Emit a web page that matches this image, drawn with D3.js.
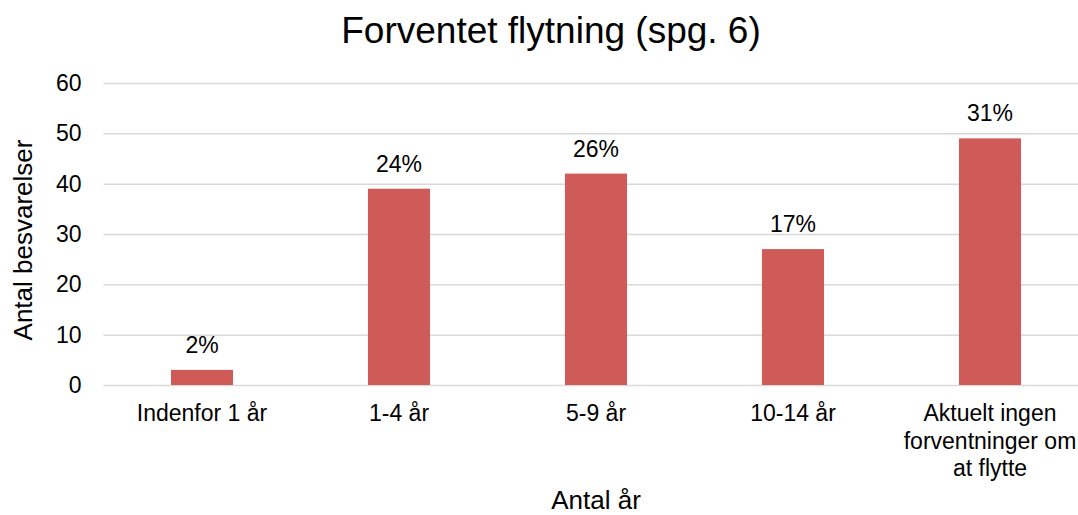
<!DOCTYPE html>
<html>
<head>
<meta charset="utf-8">
<script src="https://cdn.jsdelivr.net/npm/d3@7"></script>
<style>
  html, body { margin: 0; padding: 0; background: #ffffff; }
  svg { display: block; }
  text { font-family: "Liberation Sans", Arial, sans-serif; fill: #000000; }
</style>
</head>
<body>
<svg id="chart" width="1078" height="515"></svg>
<script>
// Survey answers: expected time until moving
const categories = ["Indenfor 1 år", "1-4 år", "5-9 år", "10-14 år", "Aktuelt ingen forventninger om at flytte"];
const counts = [3, 39, 42, 27, 49];
const yTicks = [0, 10, 20, 30, 40, 50, 60];

const titleText = "Forventet flytning (spg. 6)";
const xTitle = "Antal år";
const yTitle = "Antal besvarelser";

const W = 1078, H = 515;
const plot = { left: 103.5, right: 1088.5, top: 83, bottom: 385 };

const svg = d3.select("#chart");

const x = d3.scaleBand()
  .domain(categories)
  .range([plot.left, plot.right])
  .paddingInner(0.685)
  .paddingOuter(0.3425);

const y = d3.scaleLinear()
  .domain([0, 60])
  .range([plot.bottom, plot.top]);

const total = d3.sum(counts);
const pct = d3.format(".0%");

// Horizontal gridlines with value labels
const yAxis = svg.append("g")
  .attr("transform", `translate(${plot.left},0)`)
  .call(d3.axisLeft(y).tickValues(yTicks).tickSize(-(W - plot.left)).tickPadding(22).tickFormat(d3.format("d")));
yAxis.select(".domain").remove();
yAxis.selectAll(".tick line").attr("stroke", "#d9d9d9").attr("stroke-width", 1.5);
yAxis.selectAll(".tick text")
  .attr("font-size", 23)
  .attr("font-family", "'Liberation Sans', Arial, sans-serif")
  .attr("fill", "#000");

// Bars
svg.append("g").selectAll("rect")
  .data(counts)
  .join("rect")
  .attr("x", (d, i) => x(categories[i]))
  .attr("width", x.bandwidth())
  .attr("y", d => y(d))
  .attr("height", d => y(0) - y(d))
  .attr("fill", "#cf5b59");

// Share of all answers above each bar
svg.append("g").selectAll("text")
  .data(counts)
  .join("text")
  .attr("x", (d, i) => x(categories[i]) + x.bandwidth() / 2)
  .attr("y", d => y(d) - 17)
  .attr("text-anchor", "middle")
  .attr("font-size", 23)
  .text(d => pct(d / total));

// Category labels, wrapped to the available width
const catG = svg.append("g");
categories.forEach(cat => {
  const cx = x(cat) + x.bandwidth() / 2;
  const t = catG.append("text")
    .attr("x", cx)
    .attr("y", 421)
    .attr("text-anchor", "middle")
    .attr("font-size", 23);
  const words = cat.split(" ");
  let line = [];
  let tspan = t.append("tspan").attr("x", cx).attr("dy", 0);
  words.forEach(w => {
    line.push(w);
    tspan.text(line.join(" "));
    if (tspan.node().getComputedTextLength() > 180 && line.length > 1) {
      line.pop();
      tspan.text(line.join(" "));
      line = [w];
      tspan = t.append("tspan").attr("x", cx).attr("dy", 27.5).text(w);
    }
  });
});

// Title
svg.append("text")
  .attr("x", 551)
  .attr("y", 43)
  .attr("text-anchor", "middle")
  .attr("font-size", 37)
  .text(titleText);

// Axis titles
svg.append("text")
  .attr("x", (plot.left + plot.right) / 2)
  .attr("y", 509)
  .attr("text-anchor", "middle")
  .attr("font-size", 26)
  .text(xTitle);

svg.append("text")
  .attr("transform", `translate(32,240) rotate(-90)`)
  .attr("text-anchor", "middle")
  .attr("font-size", 26)
  .text(yTitle);
</script>
</body>
</html>
